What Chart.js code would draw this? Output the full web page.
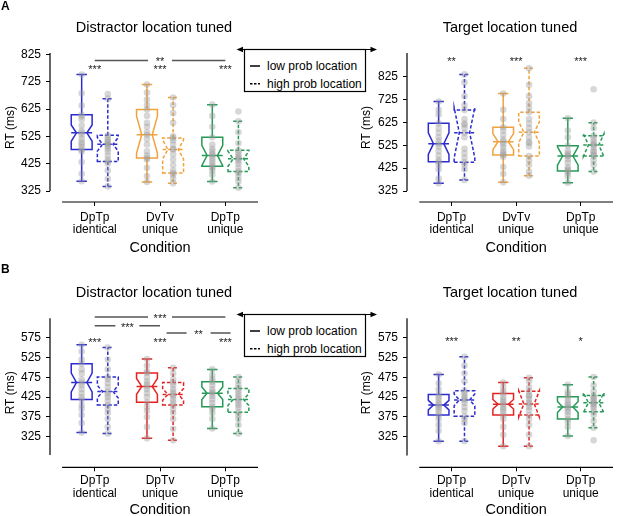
<!DOCTYPE html>
<html>
<head>
<meta charset="utf-8">
<script src="https://cdn.jsdelivr.net/npm/chart.js@4.4.1/dist/chart.umd.min.js"></script>
<style>
  body { margin: 0; background: #fff; width: 617px; height: 516px; overflow: hidden; position: relative; }
  canvas { position: absolute; }
  svg { position: absolute; left: 0; top: 0; }
</style>
</head>
<body>
<canvas id="aDist" width="300" height="258" style="left:0;top:0"></canvas>
<canvas id="aTgt" width="317" height="258" style="left:300px;top:0"></canvas>
<canvas id="bDist" width="300" height="259" style="left:0;top:260px"></canvas>
<canvas id="bTgt" width="317" height="259" style="left:300px;top:260px"></canvas>

<svg width="617" height="516" font-family="'Liberation Sans', Arial, sans-serif">
  <text x="1" y="10" font-size="12" font-weight="bold">A</text>
  <text x="1" y="272.5" font-size="12" font-weight="bold">B</text>
  <g id="legA" transform="translate(0,49.5)"></g>
  <g id="legB" transform="translate(0,314.5)"></g>
</svg>

<script>
// categories and tick labels
const catsA = [['DpTp', 'identical'], ['DvTv', 'unique'], ['DpTp', 'unique']];
const catsB = [['DpTp', 'identical'], ['DpTv', 'unique'], ['DpTp', 'unique']];
const ticksA = [325, 425, 525, 625, 725, 825];
const ticksB = [325, 375, 425, 475, 525, 575];
const colorsA = ['#2b2bd0', '#f2a23c', '#259a57'];
const colorsB = ['#2b2bd0', '#e52222', '#259a57'];

// box stats: [whisker low, q1, median, q3, whisker high, notch low, notch high]
const aDistLow  = [[361, 477, 538, 604, 751, 507, 567], [358, 446, 531, 623, 715, 463, 599], [360, 416, 455, 522, 641, 418, 492]];
const aDistHigh = [[342, 433, 496, 529, 663, 471, 521], [354, 391, 477, 519, 667, 442, 512], [337, 397, 443, 474, 580, 415, 471]];
const aTgtLow   = [[359, 453, 532, 621, 716, 485, 579], [363, 483, 541, 604, 751, 506, 576], [361, 413, 478, 523, 643, 438, 518]];
const aTgtHigh  = [[373, 451, 580, 679, 835, 470, 690], [392, 478, 582, 669, 862, 537, 627], [410, 478, 526, 567, 624, 476, 576]];
const bDistLow  = [[336, 419, 462, 509, 557, 438, 486], [321, 412, 452, 486, 521, 432, 472], [346, 401, 435, 464, 495, 419, 451]];
const bDistHigh = [[333, 405, 439, 476, 550, 423, 455], [316, 405, 432, 462, 499, 417, 447], [333, 387, 419, 447, 476, 404, 434]];
const bTgtLow   = [[314, 380, 405, 432, 482, 393, 417], [301, 380, 407, 434, 462, 395, 419], [327, 370, 400, 426, 456, 386, 414]];
const bTgtHigh  = [[314, 377, 418, 441, 527, 403, 433], [301, 380, 408, 440, 474, 375, 441], [348, 388, 411, 429, 476, 386, 436]];

// individual participant RTs (ms)
const aDistLowPts = [
  [751, 683, 638, 604, 598, 587, 565, 545, 538, 530, 516, 504, 496, 486, 477, 470, 431, 388, 361],
  [715, 685, 660, 640, 623, 600, 575, 560, 540, 531, 515, 495, 470, 455, 446, 440, 410, 380, 358],
  [641, 600, 560, 522, 495, 480, 470, 460, 455, 445, 435, 425, 416, 410, 400, 385, 360]];
const aDistHighPts = [
  [680, 663, 529, 520, 512, 505, 498, 496, 490, 480, 470, 455, 440, 433, 425, 400, 370, 342],
  [667, 640, 610, 575, 525, 519, 510, 495, 480, 477, 460, 440, 420, 400, 391, 385, 370, 354],
  [616, 580, 540, 500, 474, 465, 455, 448, 443, 435, 425, 410, 397, 390, 375, 360, 337]];
const aTgtLowPts = [
  [716, 680, 660, 621, 600, 580, 560, 545, 532, 520, 500, 480, 460, 453, 440, 420, 380, 359],
  [751, 680, 640, 604, 590, 570, 550, 541, 530, 515, 500, 490, 483, 475, 430, 400, 363],
  [643, 590, 560, 523, 500, 490, 480, 478, 465, 450, 430, 420, 413, 405, 390, 361]];
const aTgtHighPts = [
  [835, 800, 740, 700, 679, 640, 620, 615, 600, 580, 560, 510, 490, 470, 451, 440, 420, 373],
  [862, 790, 740, 710, 690, 669, 640, 620, 600, 582, 560, 540, 535, 520, 478, 460, 440, 410, 392],
  [770, 624, 600, 567, 555, 540, 530, 526, 515, 500, 495, 485, 478, 460, 440, 410]];
const bDistLowPts = [
  [557, 540, 520, 509, 495, 485, 470, 462, 455, 445, 435, 425, 419, 405, 395, 380, 360, 336],
  [521, 505, 490, 486, 475, 465, 458, 452, 445, 435, 425, 412, 400, 390, 375, 350, 321],
  [495, 480, 470, 464, 455, 445, 438, 435, 428, 420, 410, 401, 395, 385, 370, 346]];
const bDistHighPts = [
  [550, 520, 495, 476, 470, 460, 450, 439, 432, 425, 415, 405, 395, 385, 370, 350, 333],
  [499, 485, 470, 462, 455, 445, 438, 432, 428, 420, 412, 405, 395, 385, 370, 345, 316],
  [476, 465, 455, 447, 440, 432, 425, 419, 412, 405, 398, 387, 380, 370, 355, 333]];
const bTgtLowPts = [
  [482, 460, 445, 432, 425, 418, 410, 405, 400, 395, 388, 380, 370, 355, 340, 314],
  [462, 450, 440, 434, 425, 418, 412, 407, 400, 395, 388, 380, 370, 350, 330, 301],
  [456, 440, 432, 426, 418, 410, 405, 400, 395, 388, 380, 370, 362, 350, 327]];
const bTgtHighPts = [
  [527, 505, 485, 465, 441, 435, 428, 422, 418, 410, 400, 390, 377, 370, 360, 314],
  [474, 465, 450, 440, 430, 428, 420, 412, 408, 400, 392, 380, 370, 355, 330, 301],
  [476, 455, 440, 429, 425, 420, 415, 411, 408, 403, 397, 388, 380, 365, 348, 316]];

// significance
const aDistStars = ['***', '***', '***'];
const aTgtStars = ['**', '***', '***'];
const bDistStars = ['***', '***', '***'];
const bTgtStars = ['***', '**', '*'];
const aDistBrackets = [{ from: 0, to: 2, y: 803, label: '**' }];
const bDistBrackets = [
  { from: 0, to: 2, y: 627, label: '***' },
  { from: 0, to: 1, y: 605, label: '***' },
  { from: 1.1, to: 2.08, y: 587, label: '**' }];

const FONT = "'Liberation Sans', Arial, sans-serif";
Chart.defaults.font.family = FONT;
const OFF = 0.2, BOXW = 0.32;

function makeDecor(o) {
  return {
    id: 'decor',
    beforeDatasetsDraw(chart) {
      const { ctx, scales: { x, y } } = chart;
      const unit = x.getPixelForValue(1) - x.getPixelForValue(0);
      const hw = BOXW * unit / 2, cw = hw / 2;
      [[o.low, []], [o.high, [3.5, 2]]].forEach(([stats, dash], k) => {
        stats.forEach((s, i) => {
          const [wl, q1, med, q3, wh, nl, nh] = s;
          const cx = x.getPixelForValue(i + (k ? OFF : -OFF));
          const Y = v => y.getPixelForValue(v);
          ctx.save();
          ctx.strokeStyle = o.colors[i];
          ctx.lineWidth = 1.5;
          ctx.setLineDash(dash);
          const shape = [[-hw, q1], [hw, q1], [hw, nl], [cw, med], [hw, nh], [hw, q3],
                         [-hw, q3], [-hw, nh], [-cw, med], [-hw, nl], [-hw, q1]];
          ctx.beginPath();
          shape.forEach(([dx, v], j) => j ? ctx.lineTo(cx + dx, Y(v)) : ctx.moveTo(cx + dx, Y(v)));
          ctx.closePath();
          ctx.stroke();
          ctx.beginPath();
          ctx.moveTo(cx, Y(q3)); ctx.lineTo(cx, Y(wh));
          ctx.moveTo(cx, Y(q1)); ctx.lineTo(cx, Y(wl));
          ctx.moveTo(cx - cw, Y(wh)); ctx.lineTo(cx + cw, Y(wh));
          ctx.moveTo(cx - cw, Y(wl)); ctx.lineTo(cx + cw, Y(wl));
          ctx.moveTo(cx - hw, Y(med)); ctx.lineTo(cx + hw, Y(med));
          ctx.stroke();
          ctx.restore();
        });
      });
    },
    afterDraw(chart) {
      const { ctx, chartArea: a, scales: { x, y } } = chart;
      ctx.save();
      // offset spines
      ctx.strokeStyle = '#000';
      ctx.lineWidth = 1.2;
      ctx.beginPath();
      ctx.moveTo(a.left, y.getPixelForValue(o.spine[0]));
      ctx.lineTo(a.left, y.getPixelForValue(o.spine[1]));
      ctx.moveTo(x.getPixelForValue(-0.5), a.bottom);
      ctx.lineTo(x.getPixelForValue(2.5), a.bottom);
      ctx.stroke();
      // titles
      ctx.fillStyle = '#000';
      ctx.textAlign = 'center';
      ctx.textBaseline = 'middle';
      ctx.font = '14.5px ' + FONT;
      ctx.fillText(o.title, (a.left + a.right) / 2, a.top - 25);
      ctx.fillText('Condition', x.getPixelForValue(1), a.bottom + o.xlabDy);
      // stars
      ctx.font = '11px ' + FONT;
      ctx.fillStyle = '#222';
      o.stars.forEach((s, i) => ctx.fillText(s, x.getPixelForValue(i), y.getPixelForValue(o.starY) + 2));
      // brackets
      ctx.strokeStyle = '#555';
      ctx.lineWidth = 1.5;
      (o.brackets || []).forEach(b => {
        const x1 = x.getPixelForValue(b.from), x2 = x.getPixelForValue(b.to);
        const yy = y.getPixelForValue(b.y), mid = (x1 + x2) / 2;
        ctx.beginPath();
        ctx.moveTo(x1, yy); ctx.lineTo(mid - 12, yy);
        ctx.moveTo(mid + 12, yy); ctx.lineTo(x2, yy);
        ctx.stroke();
        ctx.fillText(b.label, mid, yy + 2);
      });
      ctx.restore();
    }
  };
}

function panel(id, o) {
  const pts = [];
  [o.lowPts, o.highPts].forEach((set, k) =>
    set.forEach((vals, i) => vals.forEach(v => pts.push({ x: i + (k ? OFF : -OFF), y: v }))));
  return new Chart(document.getElementById(id), {
    type: 'scatter',
    data: {
      datasets: [{
        data: pts,
        pointRadius: 3.3,
        pointBackgroundColor: 'rgba(155,155,155,0.4)',
        pointBorderWidth: 0
      }]
    },
    options: {
      responsive: false,
      animation: false,
      events: [],
      layout: { padding: o.pad },
      plugins: { legend: { display: false }, tooltip: { enabled: false } },
      scales: {
        x: {
          type: 'linear', min: o.xMin, max: 2.5,
          afterBuildTicks: s => { s.ticks = [0, 1, 2].map(v => ({ value: v })); },
          afterFit: s => { s.height = o.xH; },
          ticks: {
            callback: v => o.cats[v], color: '#000', padding: o.xPad,
            font: { size: 12, lineHeight: 1.05 }, maxRotation: 0, autoSkip: false
          },
          grid: { drawOnChartArea: false, tickLength: 4, color: '#000' },
          border: { display: false }
        },
        y: {
          min: o.yMin, max: o.yMax,
          afterBuildTicks: s => { s.ticks = o.yTicks.map(v => ({ value: v })); },
          afterFit: s => { s.width = o.yW; },
          ticks: { color: '#000', padding: 5, font: { size: 12 } },
          grid: { drawOnChartArea: false, tickLength: 4, color: '#000' },
          border: { display: false },
          title: { display: true, text: 'RT (ms)', color: '#000', font: { size: 12 }, padding: { top: 3, bottom: 0 } }
        }
      }
    },
    plugins: [makeDecor(o)]
  });
}

panel('aDist', {
  cats: catsA, yTicks: ticksA, colors: colorsA, low: aDistLow, high: aDistHigh,
  lowPts: aDistLowPts, highPts: aDistHighPts, stars: aDistStars, starY: 776, brackets: aDistBrackets,
  title: 'Distractor location tuned', pad: { left: 0, right: 42, top: 53, bottom: 0 },
  yW: 50, xH: 56, xMin: -0.685, yMin: 285, yMax: 830, spine: [325, 830], xPad: 5, xlabDy: 45.5
});
panel('aTgt', {
  cats: catsA, yTicks: ticksA, colors: colorsA, low: aTgtLow, high: aTgtHigh,
  lowPts: aTgtLowPts, highPts: aTgtHighPts, stars: aTgtStars, starY: 898,
  title: 'Target location tuned', pad: { left: 56.5, right: 1, top: 53, bottom: 0 },
  yW: 50.5, xH: 56, xMin: -0.69, yMin: 277, yMax: 928.6, spine: [325, 928.6], xPad: 5, xlabDy: 45.5
});
panel('bDist', {
  cats: catsB, yTicks: ticksB, colors: colorsB, low: bDistLow, high: bDistHigh,
  lowPts: bDistLowPts, highPts: bDistHighPts, stars: bDistStars, starY: 567, brackets: bDistBrackets,
  title: 'Distractor location tuned', pad: { left: 0, right: 42, top: 58.3, bottom: 0 },
  yW: 50, xH: 51.7, xMin: -0.685, yMin: 248, yMax: 624, spine: [279, 624], xPad: 3, xlabDy: 43
});
panel('bTgt', {
  cats: catsB, yTicks: ticksB, colors: colorsB, low: bTgtLow, high: bTgtHigh,
  lowPts: bTgtLowPts, highPts: bTgtHighPts, stars: bTgtStars, starY: 569,
  title: 'Target location tuned', pad: { left: 56.5, right: 1, top: 58.3, bottom: 0 },
  yW: 50.5, xH: 51.7, xMin: -0.69, yMin: 248, yMax: 624, spine: [278, 624], xPad: 3, xlabDy: 43
});

// shared legend with the double arrow spanning both panels
const NS = 'http://www.w3.org/2000/svg';
function el(parent, tag, attrs, text) {
  const e = document.createElementNS(NS, tag);
  for (const k in attrs) e.setAttribute(k, attrs[k]);
  if (text) e.textContent = text;
  parent.appendChild(e);
  return e;
}
['legA', 'legB'].forEach(id => {
  const g = document.getElementById(id);
  el(g, 'rect', { x: 244.5, y: 0, width: 121, height: 42, fill: '#fff', stroke: '#000', 'stroke-width': 1.2 });
  el(g, 'line', { x1: 238, y1: 0, x2: 375, y2: 0, stroke: '#000', 'stroke-width': 1 });
  el(g, 'polygon', { points: '236.5,0 243,-2.8 243,2.8', fill: '#000' });
  el(g, 'polygon', { points: '377,0 370.5,-2.8 370.5,2.8', fill: '#000' });
  el(g, 'line', { x1: 250, y1: 16.5, x2: 260, y2: 16.5, stroke: '#000', 'stroke-width': 1.5 });
  el(g, 'line', { x1: 250, y1: 34.2, x2: 260, y2: 34.2, stroke: '#000', 'stroke-width': 1.5, 'stroke-dasharray': '2.5 1.5' });
  el(g, 'text', { x: 267, y: 20.7, 'font-size': 12 }, 'low prob location');
  el(g, 'text', { x: 267, y: 38.4, 'font-size': 12 }, 'high prob location');
});
</script>
</body>
</html>
